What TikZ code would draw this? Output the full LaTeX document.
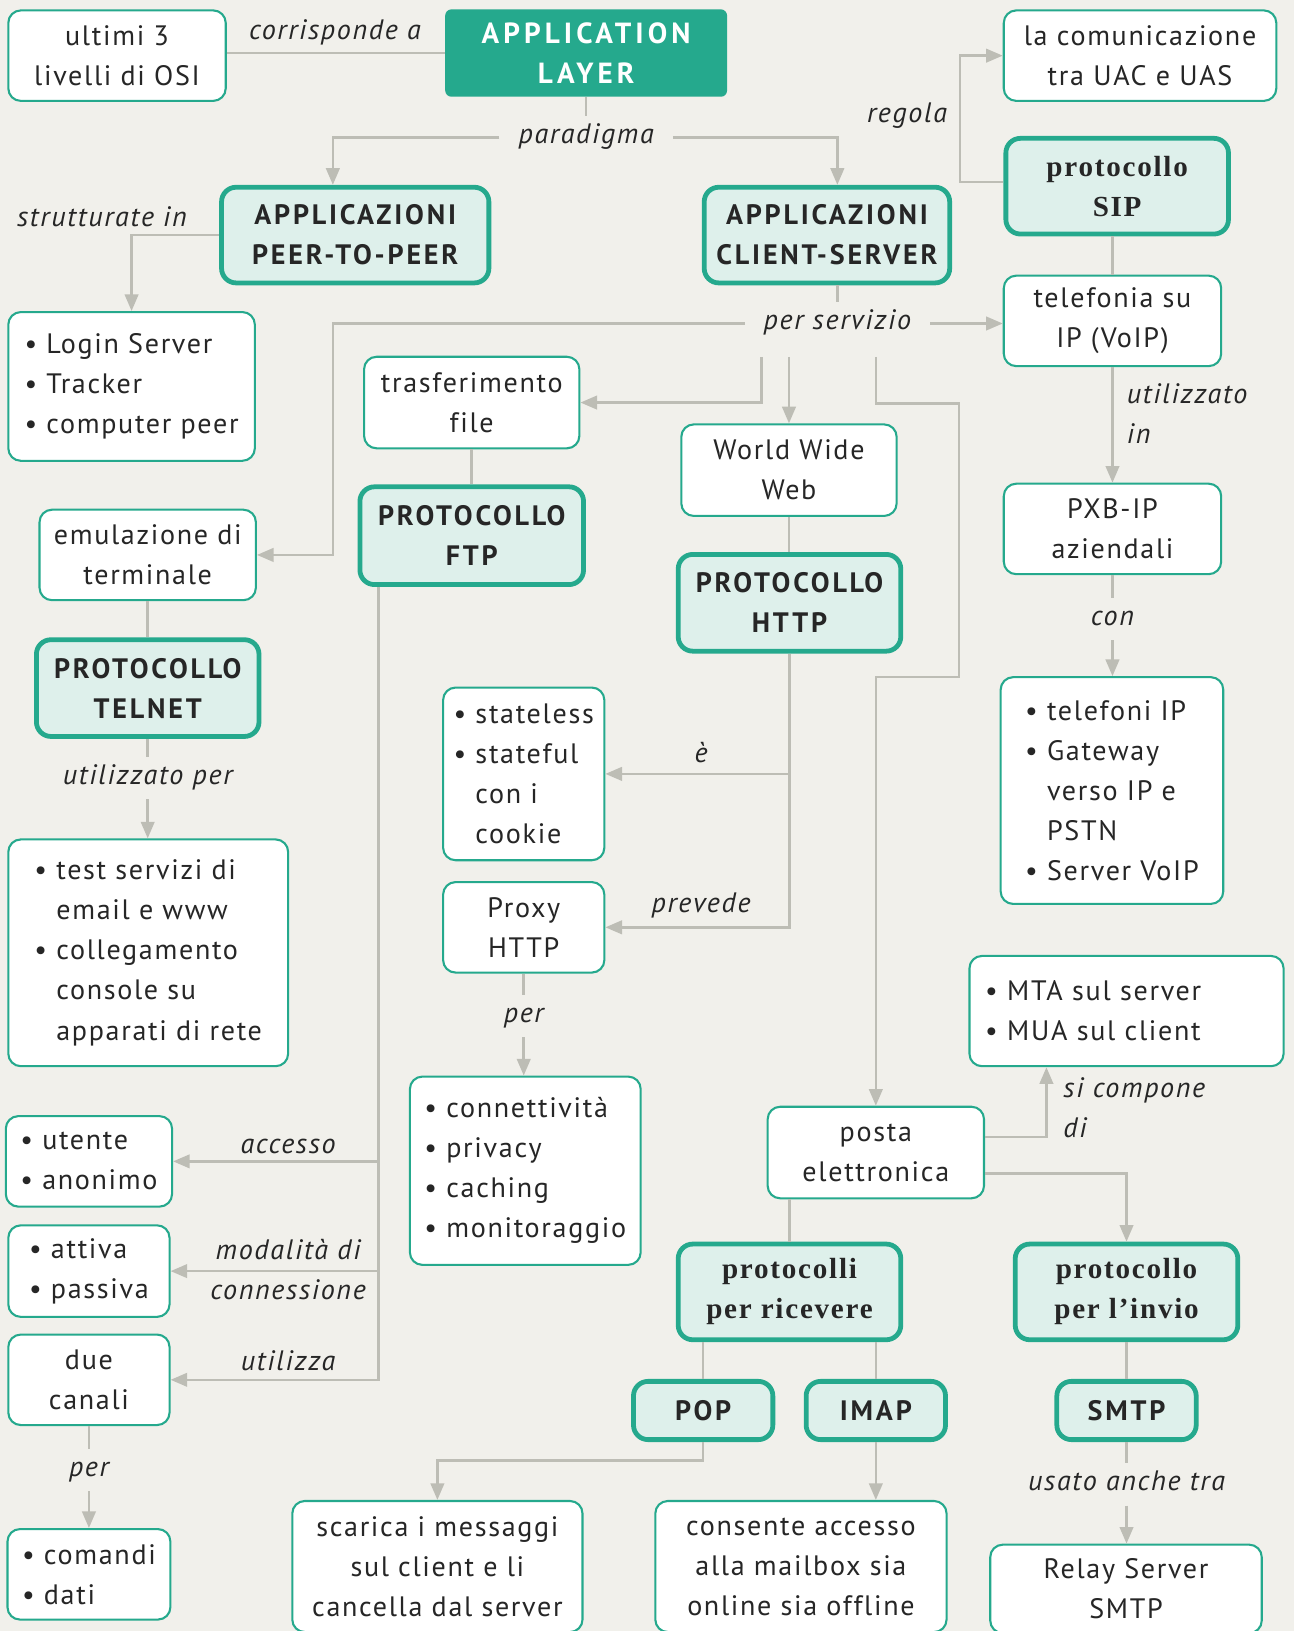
\documentclass[tikz,border=0pt]{standalone}
\usepackage{fontspec}
\setmainfont[LetterSpace=6, Ligatures=NoCommon]{PT Sans}
\newfontfamily\slabfont[LetterSpace=6]{Liberation Serif}
\usetikzlibrary{arrows.meta}

\definecolor{paper}{HTML}{F1F0EB}
\definecolor{mapteal}{HTML}{25A98D}
\definecolor{mint}{HTML}{DEF0EB}
\definecolor{wire}{HTML}{BDBDB5}
\definecolor{ink}{HTML}{262626}

\newcommand\itm{\textbullet\ }
\newcommand\cont{\hphantom{\textbullet\ }}
\newcommand\plainfont{\fontsize{13.5}{19.25}\selectfont}
\newcommand\capsfont{\fontsize{13.5}{19.25}\selectfont\bfseries\addfontfeature{LetterSpace=10}}
\newcommand\slabbold{\slabfont\fontsize{14}{19.25}\selectfont\bfseries}

\tikzset{
  dims/.style 2 args={minimum width=#1pt, minimum height=#2pt},
  box/.style={font=\plainfont, text=ink, draw=mapteal, line width=1pt, fill=white,
    rounded corners=6pt, align=center, inner sep=3pt},
  keybox/.style={box, line width=2.3pt, fill=mint, rounded corners=7pt, font=\capsfont},
  slabbox/.style={keybox, font=\slabbold},
  listbox/.style={box, align=left, inner xsep=7pt},
  lbl/.style={font=\plainfont\itshape, text=ink, inner xsep=9pt, inner ysep=4pt,
    text height=9pt, text depth=3pt},
  note/.style={font=\plainfont\itshape, text=ink, inner sep=0pt},
  link/.style={draw=wire, line width=1.2pt},
  arr/.style={link, -{Triangle[length=8pt,width=6.5pt]}},
}

\begin{document}
\begin{tikzpicture}[x=0.5pt, y=-0.5pt]

        \fill[paper] (0,0) rectangle (1244,1568);
        \useasboundingbox (0,0) rectangle (1244,1568);

        % top row
        \node[box, dims={104.5}{43.5}] (osi) at (112.5,53.5) {ultimi 3\\livelli di OSI};
        \node[fill=mapteal, text=white, rounded corners=3pt, align=center, dims={135.5}{42},
          font=\fontsize{14}{19.5}\selectfont\bfseries\addfontfeature{LetterSpace=14}]
          (app) at (563.5,51) {APPLICATION\\LAYER};
        \node[box, dims={131}{43.5}] (uac) at (1096,53.5) {la comunicazione\\tra UAC e UAS};
        \node[slabbox, dims={107}{46}] (sip) at (1074,179) {protocollo\\SIP};

        \node[keybox, dims={128.5}{46}] (p2p) at (341.5,226) {APPLICAZIONI\\PEER-TO-PEER};
        \node[keybox, dims={118}{46}] (cs) at (795,226) {APPLICAZIONI\\CLIENT-SERVER};

        \node[listbox, dims={118.5}{71.5}] (peers) at (126.5,371.5)
          {\itm Login Server\\\itm Tracker\\\itm computer peer};
        \node[box, dims={104.5}{43.5}] (voip) at (1069.5,308.5) {telefonia su\\IP (VoIP)};

        % client-server services
        \node[box, dims={103.5}{44}] (file) at (453.5,387) {trasferimento\\file};
        \node[box, dims={103.5}{44}] (www) at (758.5,452) {World Wide\\Web};
        \node[keybox, dims={107.5}{47}] (ftp) at (453.5,515) {PROTOCOLLO\\FTP};
        \node[box, dims={104}{43.5}] (term) at (142,533.5) {emulazione di\\terminale};
        \node[keybox, dims={107}{46.5}] (http) at (759,579.5) {PROTOCOLLO\\HTTP};
        \node[box, dims={104.5}{43.5}] (pbx) at (1069.5,508.5) {PXB-IP\\aziendali};
        \node[keybox, dims={107}{46.5}] (telnet) at (142,661.5) {PROTOCOLLO\\TELNET};

        \node[listbox, inner xsep=5pt, dims={77.5}{83}] (state) at (503.5,744)
          {\itm stateless\\\itm stateful\\\cont con i\\\cont cookie};
        \node[listbox, dims={107}{109}] (phones) at (1069,760)
          {\itm telefoni IP\\\itm Gateway\\\cont verso IP e\\\cont PSTN\\\itm Server VoIP};
        \node[listbox, dims={134.5}{109}] (tests) at (142.5,916)
          {\itm test servizi di\\\cont email e www\\\itm collegamento\\\cont console su\\\cont apparati di rete};
        \node[box, dims={77.5}{43.5}] (proxy) at (503.5,891.5) {Proxy\\HTTP};
        \node[listbox, dims={151}{53}, text width=136pt] (mta) at (1083,972)
          {\itm MTA sul server\\\itm MUA sul client};
        \node[listbox, dims={107}{90.5}] (feats) at (505,1125.5)
          {\itm connettività\\\itm privacy\\\itm caching\\\itm monitoraggio};

        % mail
        \node[box, dims={104}{44}] (mail) at (842,1108) {posta\\elettronica};
        \node[slabbox, dims={107}{46}] (recv) at (759,1242) {protocolli\\per ricevere};
        \node[slabbox, dims={107}{46}] (send) at (1083,1242) {protocollo\\per l’invio};
        \node[keybox, dims={67}{28}] (pop) at (676,1356) {POP};
        \node[keybox, dims={67}{28}] (imap) at (842,1356) {IMAP};
        \node[keybox, dims={67}{28}] (smtp) at (1083,1356) {SMTP};
        \node[box, dims={139.5}{63}] (popnote) at (420.5,1506)
          {scarica i messaggi\\sul client e li\\cancella dal server};
        \node[box, dims={140}{63}] (imapnote) at (770,1506)
          {consente accesso\\alla mailbox sia\\online sia offline};
        \node[box, dims={130.5}{42.5}] (relay) at (1082.5,1527.5) {Relay Server\\SMTP};

        % ftp options
        \node[listbox, dims={77.5}{43.5}] (user) at (85.5,1116.5) {\itm utente\\\itm anonimo};
        \node[listbox, dims={77.5}{44}] (mode) at (85.5,1222) {\itm attiva\\\itm passiva};
        \node[box, dims={77.5}{43.5}] (chan) at (85.5,1326.5) {due\\canali};
        \node[listbox, dims={77.5}{43.5}] (cmds) at (85.5,1513.5) {\itm comandi\\\itm dati};

        % links
        \node[lbl] (corr) at (322,32) {corrisponde a};
        \draw[link] (osi.east |- app.west) -- (app.west);

        \node[lbl] (par) at (563.5,132) {paradigma};
        \draw[link] (app.south) -- (par.north);
        \draw[arr] (par.west) -| ([xshift=-10.75pt]p2p.north);
        \draw[arr] (par.east) -| ([xshift=5pt]cs.north);

        \node[lbl] (reg) at (872,112) {regola};
        \draw[arr] ([yshift=2pt]sip.west) -- ++(-21pt,0) |- (uac.west);
        \draw[link] (sip.south -| voip.north) -- (voip.north);

        \node[lbl] (strut) at (98,212) {strutturate in};
        \draw[arr] (p2p.west) -| (peers.north);

        \node[lbl] (ser) at (805,311) {per servizio};
        \draw[link] (ser.north |- cs.south) -- (ser.north);
        \draw[arr] (ser.west) -| (320,533.5) -- (term.east);
        \draw[arr] (ser.east) -- (ser.east -| voip.west);

        \coordinate (fork) at (0,343);
        \draw[arr] (732,343) |- (file.east);
        \draw[arr] (www.north |- fork) -- (www.north);
        \draw[arr] (842,343) -- (842,388) -- (922,388) -- (922,651) -- (842,651) -- (mail.north);

        \draw[link] (file.south) -- (ftp.north);
        \draw[link] (www.south) -- (www.south |- http.north);
        \draw[link] (term.south) -- (telnet.north);

        \node[note, anchor=west, align=left] (usedin) at (1083,398) {utilizzato\\in};
        \draw[arr] (voip.south) -- (pbx.north);

        \node[lbl] (con) at (1069.5,595) {con};
        \draw[link] (pbx.south) -- (con.north);
        \draw[arr] (con.south) -- (con.south |- phones.north);

        \node[lbl] (usedfor) at (142,748) {utilizzato per};
        \draw[link] (telnet.south) -- (usedfor.north);
        \draw[arr] (usedfor.south) -- (usedfor.south |- tests.north);

        \node[lbl] (is) at (674,727) {è};
        \node[lbl] (has) at (674,871) {prevede};
        \draw[arr] (http.south) |- (state.east);
        \draw[arr] (http.south) |- (proxy.east);

        \node[lbl] (per1) at (503.5,977) {per};
        \draw[link] (proxy.south) -- (per1.north);
        \draw[arr] (per1.south) -- (per1.south |- feats.north);

        \node[lbl] (acc) at (277,1103) {accesso};
        \node[note, align=center] (modal) at (277,1220.5) {modalità di\\connessione};
        \node[lbl] (uses) at (277,1312) {utilizza};
        \draw[arr] ([xshift=10pt]ftp.south west) |- (user.east);
        \draw[arr] ([xshift=10pt]ftp.south west) |- (mode.east);
        \draw[arr] ([xshift=10pt]ftp.south west) |- (chan.east);

        \node[lbl] (per2) at (85.5,1413) {per};
        \draw[link] (chan.south) -- (per2.north);
        \draw[arr] (per2.south) -- (cmds.north);

        \node[note, anchor=west, align=left] (comp) at (1022,1065) {si compone\\di};
        \draw[arr] ([yshift=7.5pt]mail.east) -| ([xshift=37.5pt]mta.south west);
        \draw[arr] ([yshift=-10pt]mail.east) -| (send.north);
        \draw[link] (recv.north |- mail.south) -- (recv.north);
        \draw[link] (pop.north |- recv.south) -- (pop.north);
        \draw[link] (imap.north |- recv.south) -- (imap.north);
        \draw[arr] (pop.south) -- ++(0,-9pt) -| (popnote.north);
        \draw[arr] (imap.south) -- (imap.south |- imapnote.north);
        \draw[link] (send.south) -- (smtp.north);

        \node[lbl] (also) at (1083,1427) {usato anche tra};
        \draw[link] (smtp.south) -- (also.north);
        \draw[arr] (also.south) -- (also.south |- relay.north);

\end{tikzpicture}
\end{document}
